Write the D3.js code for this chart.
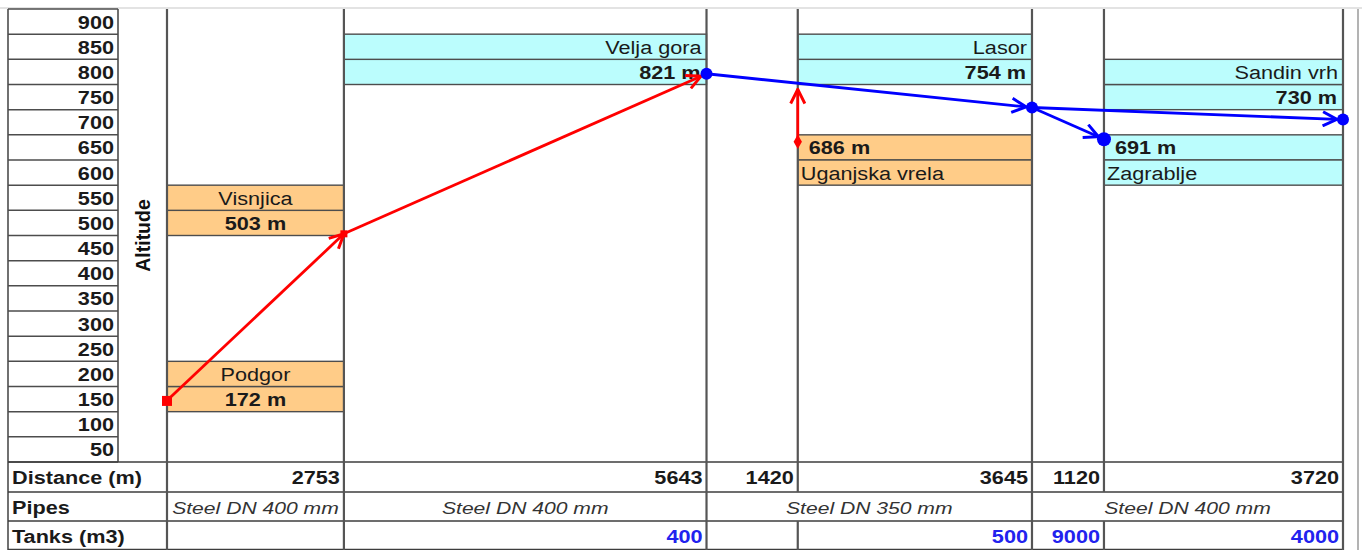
<!DOCTYPE html>
<html><head><meta charset="utf-8">
<script src="https://cdn.jsdelivr.net/npm/d3@7"></script>
<style>html,body{margin:0;padding:0;background:#fff;}svg{display:block;font-family:"Liberation Sans",Arial,sans-serif;}</style>
</head><body>
<script>
// ---------- data ----------
const tickLabels = [900,850,800,750,700,650,600,550,500,450,400,350,300,250,200,150,100,50];
const stations = ["Podgor","Visnjica","Velja gora","Uganjska vrela","Lasor","Zagrablje","Sandin vrh"];
const altitudes = [172,503,821,686,754,691,730];
const segmentDistances = [2753,5643,1420,3645,1120,3720];
const tanks = ["","400","","500","9000","4000"];
const pipeNames = ["Steel DN 400 mm","Steel DN 400 mm","Steel DN 350 mm","Steel DN 400 mm"];
const pipeSpans = [[0,1],[1,2],[2,4],[4,6]];           // segment-edge index ranges
const redFlows = [[0,1],[1,2]];                         // station -> station
const blueFlows = [[2,4],[4,5],[4,6]];
const pumpFrom = 3, pumpToAltitude = 790;               // Uganjska vrela pumped up to main
const rowLabels = ["Distance (m)","Pipes","Tanks (m3)"];

// ---------- layout (presentation only) ----------
const boxLayout = [
  {col:0, valueRow:150, nameRow:200, kind:"src", align:"middle"},
  {col:0, valueRow:500, nameRow:550, kind:"src", align:"middle"},
  {col:1, valueRow:800, nameRow:850, kind:"res", align:"end"},
  {col:3, valueRow:650, nameRow:600, kind:"src", align:"start"},
  {col:3, valueRow:800, nameRow:850, kind:"res", align:"end"},
  {col:5, valueRow:650, nameRow:600, kind:"res", align:"start"},
  {col:5, valueRow:750, nameRow:800, kind:"res", align:"end"}
];
const fills = {src:"#FFCC88", res:"#BBFDFD"};

const W=1362, H=550, SX=1.14, FS=19;
const svg = d3.select("body").append("svg").attr("width",W).attr("height",H);
svg.append("rect").attr("width",W).attr("height",H).attr("fill","#fff");

const edgesD = [0, ...d3.cumsum(segmentDistances)];
const total = edgesD[edgesD.length-1];
const x = d3.scaleLinear().domain([0,total]).range([167,1343]);
const y = d3.scaleLinear().domain([0,900]).range([487,34]);
const row = d3.scaleBand().domain(tickLabels).range([9,462]);
const ex = i => x(edgesD[i]);
const TOP=9, R1=462, R2=492, R3=521, R4=550, LEFT=8, TICKR=118, OUTR=1358;

function T(px,py,str,o={}){
  const g = svg.append("g").attr("transform",`translate(${px},${py}) scale(${o.sx||SX},1)`);
  return g.append("text").attr("text-anchor",o.anchor||"start")
    .attr("font-size",o.size||FS).attr("font-weight",o.weight||"normal")
    .attr("font-style",o.style||"normal").attr("fill",o.fill||"#1a1a1a").text(str);
}
const line=(x1,y1,x2,y2,c="#4d4d4d",w=1.5)=>svg.append("line").attr("x1",x1).attr("y1",y1).attr("x2",x2).attr("y2",y2).attr("stroke",c).attr("stroke-width",w);

// outer light frame
line(0,TOP-1,W,TOP-1,"#c8c8c8",1.2);
line(OUTR,TOP,OUTR,H,"#9a9a9a",1.5);

// boxes
stations.forEach((s,i)=>{
  const L=boxLayout[i], x0=ex(L.col), x1=ex(L.col+1);
  [L.valueRow,L.nameRow].forEach(r=>{
    svg.append("rect").attr("x",x0).attr("y",row(r)).attr("width",x1-x0).attr("height",row.bandwidth())
      .attr("fill",fills[L.kind]).attr("stroke","#4d4d4d").attr("stroke-width",1.4);
  });
  const tx = L.align==="middle"?(x0+x1)/2:(L.align==="end"?x1-5:x0+3);
  const vx = L.align==="start"? x0+11 : (L.align==="end"? x1-6 : (x0+x1)/2);
  T(tx,row(L.nameRow)+row.bandwidth()/2+7,s,{anchor:L.align});
  T(vx,row(L.valueRow)+row.bandwidth()/2+7,altitudes[i]+" m",{anchor:L.align,weight:"bold"});
});

// tick column
tickLabels.forEach(t=>{
  line(LEFT,row(t),TICKR,row(t));
  T(114,row(t)+row.bandwidth()/2+7,t,{anchor:"end",weight:"bold"});
});
line(LEFT,R1,TICKR,R1);
line(TICKR,TOP,TICKR,R1,"#4d4d4d",1.6);
line(LEFT,TOP,LEFT,R4,"#4d4d4d",1.6);
svg.append("text").attr("transform",`translate(150,${(TOP+R1)/2}) rotate(-90)`)
  .attr("text-anchor","middle").attr("font-size",19.5).attr("font-weight","bold").attr("fill","#111").text("Altitude");

// bottom table horizontal lines
[R1,R2,R3].forEach(r=>line(LEFT,r,ex(6),r,"#3d3d3d",1.6));
line(LEFT,R4-0.5,ex(6),R4-0.5,"#3d3d3d",1.6);

// column verticals
edgesD.forEach((d,i)=>{
  const isPipeEdge = pipeSpans.some(p=>p[0]===i||p[1]===i);
  if(isPipeEdge) line(ex(i),TOP,ex(i),R4,"#555",2.2);
  else { line(ex(i),TOP,ex(i),R2,"#555",2.2); line(ex(i),R3,ex(i),R4,"#555",2.2); }
});

// bottom rows text
T(12,(R1+R2)/2+7,rowLabels[0],{weight:"bold"});
T(12,(R2+R3)/2+7,rowLabels[1],{weight:"bold"});
T(12,(R3+R4)/2+7,rowLabels[2],{weight:"bold"});
segmentDistances.forEach((d,i)=>T(ex(i+1)-4,(R1+R2)/2+7,d,{anchor:"end",weight:"bold"}));
tanks.forEach((t,i)=>{ if(t) T(ex(i+1)-4,(R3+R4)/2+7,t,{anchor:"end",weight:"bold",fill:"#2222ee"}); });
pipeNames.forEach((p,i)=>T((ex(pipeSpans[i][0])+ex(pipeSpans[i][1]))/2,(R2+R3)/2+7,p,{anchor:"middle",style:"italic",size:16.5,sx:1.28,fill:"#333"}));

// arrow markers
const defs=svg.append("defs");
[["red","#ff0000"],["blue","#0000ff"]].forEach(([n,c])=>{
  defs.append("marker").attr("id","arr-"+n).attr("viewBox","0 0 12 12").attr("refX",11).attr("refY",6)
    .attr("markerWidth",17).attr("markerHeight",17).attr("markerUnits","userSpaceOnUse").attr("orient","auto")
    .append("path").attr("d","M1,1 L11,6 L1,11").attr("fill","none").attr("stroke",c).attr("stroke-width",2.1);
});
function flow(a,b,bx,by,color,shorten){
  const ax=ex(a), ay=y(altitudes[a]);
  const dx=bx-ax, dy=by-ay, len=Math.hypot(dx,dy);
  const ux=bx-dx/len*shorten, uy=by-dy/len*shorten;
  svg.append("line").attr("x1",ax).attr("y1",ay).attr("x2",ux).attr("y2",uy)
    .attr("stroke",color==="red"?"#ff0000":"#0000ff").attr("stroke-width",2.8).attr("marker-end",`url(#arr-${color})`);
}
redFlows.forEach(([a,b])=>flow(a,b,ex(b),y(altitudes[b]),"red",b===2?6:0));
flow(pumpFrom,null,ex(pumpFrom),y(pumpToAltitude),"red",0);
blueFlows.forEach(([a,b])=>flow(a,b,ex(b),y(altitudes[b]),"blue",6));

// markers
svg.append("rect").attr("x",ex(0)-5).attr("y",y(altitudes[0])-4.5).attr("width",10).attr("height",10).attr("fill","#ff0000");
svg.append("rect").attr("x",ex(1)-3.5).attr("y",y(altitudes[1])-3.5).attr("width",7).attr("height",7).attr("fill","#ff0000");
svg.append("path").attr("d",d3.symbol(d3.symbolDiamond,60)()).attr("transform",`translate(${ex(3)},${y(altitudes[3])})`).attr("fill","#ff0000");
[2,4,5,6].forEach(i=>svg.append("circle").attr("cx",ex(i)).attr("cy",y(altitudes[i])).attr("r",i===5?7:6).attr("fill","#0000ff"));
</script>
</body></html>
